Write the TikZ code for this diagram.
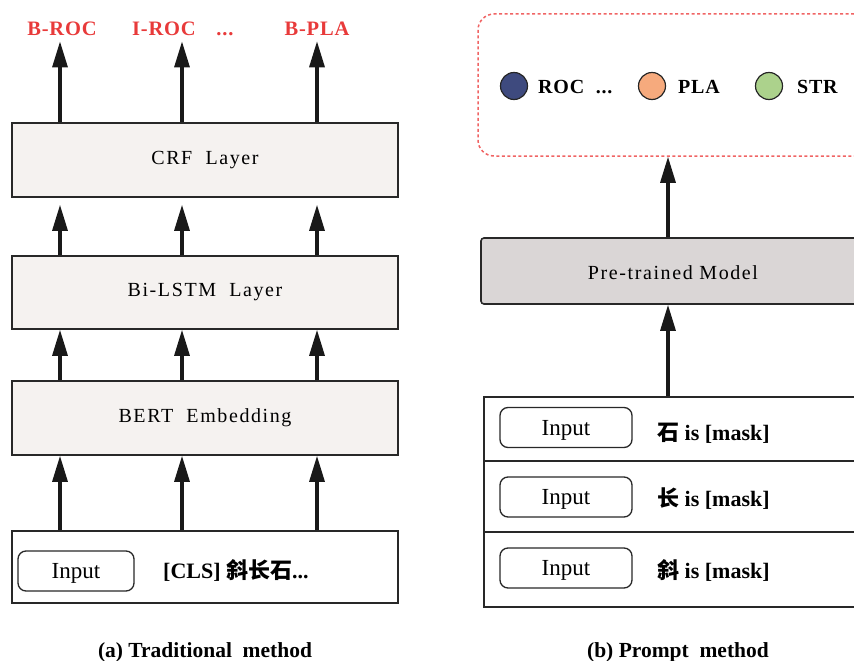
\documentclass[tikz,border=0pt]{standalone}
\usepackage{fontspec}
\setmainfont{Liberation Serif}
\newfontfamily\spaced{Liberation Serif}[LetterSpace=8]
\newfontfamily\lspaced{Liberation Serif}[LetterSpace=4]
\newfontfamily\cjk{Noto Sans CJK SC}
\usetikzlibrary{arrows.meta}
\definecolor{redlbl}{RGB}{232,58,58}
\definecolor{boxfill}{RGB}{245,242,240}
\definecolor{pmfill}{RGB}{218,214,214}
\definecolor{edge}{RGB}{40,40,40}
\definecolor{rocc}{RGB}{62,74,126}
\definecolor{plac}{RGB}{246,170,125}
\definecolor{strc}{RGB}{172,210,140}
\definecolor{dashred}{RGB}{240,100,100}
\tikzset{
  layerbox/.style={draw=edge, line width=1.6pt, fill=boxfill, minimum width=386pt, inner sep=0pt, font=\spaced\fontsize{20}{22}\selectfont},
  inbox/.style={draw=edge, line width=1.6pt, fill=white, inner sep=0pt},
  inpill/.style={draw=edge, line width=1.3pt, rounded corners=8pt, minimum height=40pt, inner sep=0pt, text depth=0pt, font=\fontsize{23}{24}\selectfont},
  arr/.style={line width=3.2pt, draw=black!90, -{Triangle[length=26pt,width=15pt]}},
  redlab/.style={text=redlbl, font=\lspaced\bfseries\fontsize{20.5}{22}\selectfont, inner sep=0pt, anchor=base},
  dot/.style={circle, draw=black!85, line width=1.2pt, minimum size=27pt, inner sep=0pt},
  legtxt/.style={font=\lspaced\bfseries\fontsize{20}{22}\selectfont, anchor=base west, inner sep=0pt},
  masktxt/.style={font=\bfseries\fontsize{22}{24}\selectfont, anchor=base west, inner sep=0pt},
  captext/.style={font=\bfseries\fontsize{21.5}{24}\selectfont, anchor=base}
}
\begin{document}
\begin{tikzpicture}[x=1pt,y=-1pt]
\useasboundingbox (0,0) rectangle (854,661);
\clip (0,0) rectangle (854,661);
% column coordinates
\coordinate (c1) at (60,0);
\coordinate (c2) at (182,0);
\coordinate (c3) at (317,0);
\coordinate (cr) at (668,0);
% ---------- left panel ----------
\node[redlab] (broc) at (62,36) {B-ROC};
\node[redlab] (iroc) at (164,36) {I-ROC};
\node[redlab] (dots) at (225,36) {...};
\node[redlab] (bpla) at (317,36) {B-PLA};
\node[layerbox, minimum height=74pt] (crf) at (205,160) {CRF\ \ Layer};
\node[layerbox, minimum height=73pt] (lstm) at (205,292.5) {Bi-LSTM\ \ Layer};
\node[layerbox, minimum height=74pt] (bert) at (205,418) {BERT\ \ Embedding};
\node[inbox, minimum width=386pt, minimum height=72pt] (inl) at (205,567) {};
\node[inpill, minimum width=116pt] (pilll) at (76,571) {Input};
\node[masktxt] (cls) at (163,578) {[CLS] {\cjk 斜长石}...};
\node[captext] (capa) at (205,657) {(a) Traditional\ \ method};
\draw[arr] (crf.north -| c1) -- ([yshift=-5pt]broc.south -| c1);
\draw[arr] (crf.north -| c2) -- ([yshift=-5pt]iroc.south -| c2);
\draw[arr] (crf.north -| c3) -- ([yshift=-5pt]bpla.south -| c3);
\draw[arr] (lstm.north -| c1) -- ([yshift=-7pt]crf.south -| c1);
\draw[arr] (lstm.north -| c2) -- ([yshift=-7pt]crf.south -| c2);
\draw[arr] (lstm.north -| c3) -- ([yshift=-7pt]crf.south -| c3);
\draw[arr] (bert.north -| c1) -- (lstm.south -| c1);
\draw[arr] (bert.north -| c2) -- (lstm.south -| c2);
\draw[arr] (bert.north -| c3) -- (lstm.south -| c3);
\draw[arr] (inl.north -| c1) -- (bert.south -| c1);
\draw[arr] (inl.north -| c2) -- (bert.south -| c2);
\draw[arr] (inl.north -| c3) -- (bert.south -| c3);
% ---------- right panel ----------
\node[draw=dashred, line width=1.5pt, dash pattern=on 3pt off 2.5pt, rounded corners=16pt, minimum width=392pt, minimum height=142pt, inner sep=0pt] (outbox) at (674,85) {};
\node[dot, fill=rocc] (d1) at (514,86) {};
\node[legtxt] (t1) at (538,93) {ROC\ \ ...};
\node[dot, fill=plac] (d2) at (652,86) {};
\node[legtxt] (t2) at (678,93) {PLA};
\node[dot, fill=strc] (d3) at (769,86) {};
\node[legtxt] (t3) at (797,93) {STR};
\node[draw=edge, line width=1.6pt, fill=pmfill, rounded corners=3pt, minimum width=389pt, minimum height=66pt, inner sep=0pt] (pm) at (675.5,271) {};
\node[font=\spaced\fontsize{20}{22}\selectfont] (pmlab) at (673,273) {Pre-trained Model};
\node[inbox, minimum width=386pt, minimum height=64pt] (r1) at (677,429) {};
\node[inbox, minimum width=386pt, minimum height=71pt] (r2) at (677,496.5) {};
\node[inbox, minimum width=386pt, minimum height=75pt] (r3) at (677,569.5) {};
\node[inpill, minimum width=132pt] (p1) at (566,427.5) {Input};
\node[inpill, minimum width=132pt] (p2) at (566,497) {Input};
\node[inpill, minimum width=132pt] (p3) at (566,568) {Input};
\node[masktxt] (m1) at (657,440) {{\cjk 石} is [mask]};
\node[masktxt] (m2) at (657,506) {{\cjk 长} is [mask]};
\node[masktxt] (m3) at (657,578) {{\cjk 斜} is [mask]};
\node[captext] (capb) at (678,657) {(b) Prompt\ \ method};
\draw[arr] (pm.north -| cr) -- (outbox.south -| cr);
\draw[arr] (r1.north -| cr) -- (pm.south -| cr);
\end{tikzpicture}
\end{document}
